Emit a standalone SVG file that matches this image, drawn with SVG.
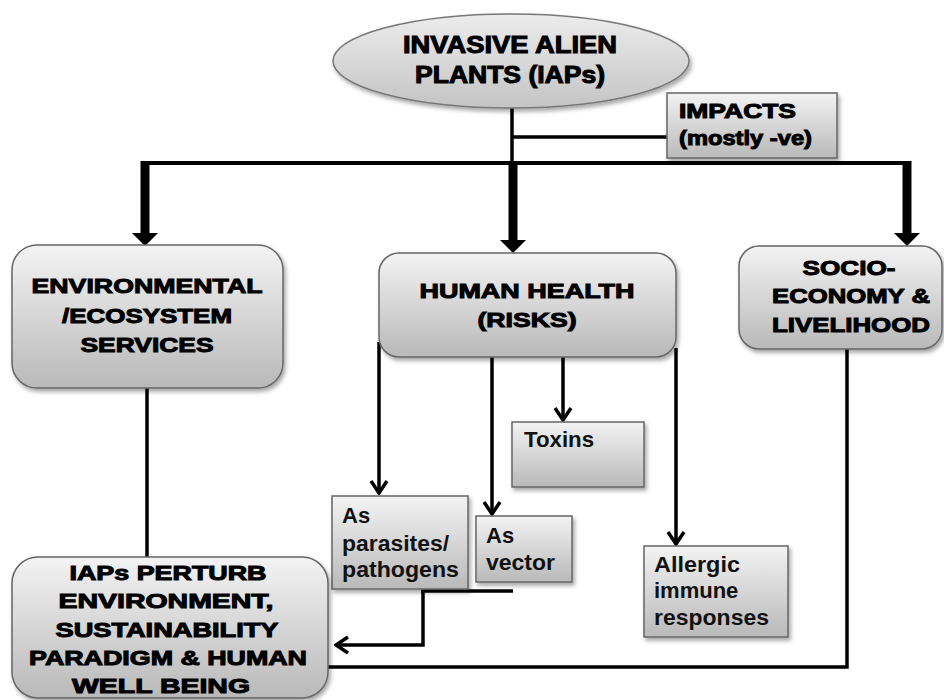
<svg xmlns="http://www.w3.org/2000/svg" width="944" height="700" viewBox="0 0 944 700">
<defs>
<linearGradient id="g" x1="0" y1="0" x2="0" y2="1">
<stop offset="0" stop-color="#f3f3f3"/>
<stop offset="1" stop-color="#b9b9b9"/>
</linearGradient>
<linearGradient id="ge" x1="0" y1="0" x2="0" y2="1">
<stop offset="0" stop-color="#ececec"/>
<stop offset="1" stop-color="#c4c4c4"/>
</linearGradient>
<filter id="sh" x="-10%" y="-10%" width="125%" height="130%">
<feDropShadow dx="2" dy="3" stdDeviation="2" flood-color="#000" flood-opacity="0.35"/>
</filter>
<marker id="chev" viewBox="-14 -10 16 20" markerUnits="userSpaceOnUse" markerWidth="16" markerHeight="20" refX="0" refY="0" orient="auto">
<path d="M-12,-8 L0,0 L-12,8" fill="none" stroke="#000" stroke-width="3.5" stroke-linejoin="miter"/>
</marker>
</defs>
<style>
.box{fill:url(#g);stroke:#666;stroke-width:1.5;filter:url(#sh)}
.hv{font-family:"Liberation Sans",Arial,sans-serif;font-weight:bold;fill:#000;stroke:#000;stroke-width:1}
.sm{font-family:"Liberation Sans",Arial,sans-serif;font-weight:bold;font-size:22px;fill:#111}
.ln{fill:none;stroke:#000;stroke-width:3.5}
.thick{fill:none;stroke:#000;stroke-width:9}
</style>
<rect width="944" height="700" fill="#fff"/>

<g id="connectors">
<line class="ln" x1="512" y1="108" x2="512" y2="163"/>
<line class="ln" x1="512" y1="137" x2="668" y2="137"/>
<line x1="141" y1="163" x2="911" y2="163" stroke="#000" stroke-width="4"/>
<line class="thick" x1="145" y1="161" x2="145" y2="236"/>
<polygon points="132,233 158,233 145,246"/>
<line class="thick" x1="513" y1="161" x2="513" y2="243"/>
<polygon points="500,240 526,240 513,253"/>
<line class="thick" x1="907" y1="161" x2="907" y2="236"/>
<polygon points="894,233 920,233 907,246"/>
<line class="ln" x1="379" y1="342" x2="379" y2="493" marker-end="url(#chev)"/>
<line class="ln" x1="492" y1="357" x2="492" y2="514" marker-end="url(#chev)"/>
<line class="ln" x1="563" y1="357" x2="563" y2="420" marker-end="url(#chev)"/>
<line class="ln" x1="676" y1="348" x2="676" y2="544" marker-end="url(#chev)"/>
<line class="ln" x1="147" y1="388" x2="147" y2="557"/>
<path class="ln" d="M847,349 V667 H328" stroke-width="4"/>
<line class="ln" x1="421" y1="591" x2="513" y2="591" stroke-width="4"/>
<path class="ln" d="M423,591 V645 H336" stroke-width="4" marker-end="url(#chev)"/>
</g>

<g id="iaps">
<ellipse cx="511" cy="61" rx="178" ry="47" fill="url(#ge)" stroke="#777" stroke-width="1.5" filter="url(#sh)"/>
<text class="hv" font-size="23" x="510" y="53" text-anchor="middle" textLength="214" lengthAdjust="spacingAndGlyphs">INVASIVE ALIEN</text>
<text class="hv" font-size="23" x="510" y="83" text-anchor="middle" textLength="190" lengthAdjust="spacingAndGlyphs">PLANTS (IAPs)</text>
</g>

<g id="impacts">
<rect class="box" x="667" y="93" width="170" height="65"/>
<text class="hv" font-size="20" x="679" y="118" textLength="117" lengthAdjust="spacingAndGlyphs">IMPACTS</text>
<text class="hv" font-size="20" x="679" y="145" textLength="133" lengthAdjust="spacingAndGlyphs">(mostly -ve)</text>
</g>

<g id="environmental">
<rect class="box" x="12" y="245" width="271" height="143" rx="25"/>
<text class="hv" font-size="21" x="147" y="293" text-anchor="middle" textLength="231" lengthAdjust="spacingAndGlyphs">ENVIRONMENTAL</text>
<text class="hv" font-size="21" x="147" y="323" text-anchor="middle" textLength="170" lengthAdjust="spacingAndGlyphs">/ECOSYSTEM</text>
<text class="hv" font-size="21" x="147" y="352" text-anchor="middle" textLength="133" lengthAdjust="spacingAndGlyphs">SERVICES</text>
</g>

<g id="health">
<rect class="box" x="379" y="253" width="297" height="104" rx="20"/>
<text class="hv" font-size="21" x="527" y="298" text-anchor="middle" textLength="215" lengthAdjust="spacingAndGlyphs">HUMAN HEALTH</text>
<text class="hv" font-size="21" x="527" y="327" text-anchor="middle" textLength="99" lengthAdjust="spacingAndGlyphs">(RISKS)</text>
</g>

<g id="socio">
<rect class="box" x="739" y="246" width="203" height="103" rx="20"/>
<text class="hv" font-size="21" x="849" y="275" text-anchor="middle" textLength="93" lengthAdjust="spacingAndGlyphs">SOCIO-</text>
<text class="hv" font-size="21" x="851" y="303" text-anchor="middle" textLength="158" lengthAdjust="spacingAndGlyphs">ECONOMY &amp;</text>
<text class="hv" font-size="21" x="851" y="332" text-anchor="middle" textLength="158" lengthAdjust="spacingAndGlyphs">LIVELIHOOD</text>
</g>

<g id="toxins">
<rect class="box" x="512" y="422" width="132" height="65"/>
<text class="sm" x="524" y="447" textLength="70" lengthAdjust="spacingAndGlyphs">Toxins</text>
</g>

<g id="parasites">
<rect class="box" x="332" y="496" width="136" height="93"/>
<text class="sm" x="342" y="523">As</text>
<text class="sm" x="342" y="551" textLength="107" lengthAdjust="spacingAndGlyphs">parasites/</text>
<text class="sm" x="342" y="577" textLength="117" lengthAdjust="spacingAndGlyphs">pathogens</text>
</g>

<g id="vector">
<rect class="box" x="476" y="516" width="96" height="66"/>
<text class="sm" x="486" y="543">As</text>
<text class="sm" x="486" y="570" textLength="69" lengthAdjust="spacingAndGlyphs">vector</text>
</g>

<g id="allergic">
<rect class="box" x="644" y="546" width="144" height="91"/>
<text class="sm" x="654" y="572" textLength="86" lengthAdjust="spacingAndGlyphs">Allergic</text>
<text class="sm" x="654" y="598">immune</text>
<text class="sm" x="654" y="625" textLength="115" lengthAdjust="spacingAndGlyphs">responses</text>
</g>

<g id="perturb">
<rect class="box" x="12" y="557" width="316" height="141" rx="26"/>
<text class="hv" font-size="20" x="168" y="580" text-anchor="middle" textLength="197" lengthAdjust="spacingAndGlyphs">IAPs PERTURB</text>
<text class="hv" font-size="20" x="166" y="608" text-anchor="middle" textLength="215" lengthAdjust="spacingAndGlyphs">ENVIRONMENT,</text>
<text class="hv" font-size="20" x="167" y="637" text-anchor="middle" textLength="223" lengthAdjust="spacingAndGlyphs">SUSTAINABILITY</text>
<text class="hv" font-size="20" x="168" y="665" text-anchor="middle" textLength="278" lengthAdjust="spacingAndGlyphs">PARADIGM &amp; HUMAN</text>
<text class="hv" font-size="20" x="161" y="693" text-anchor="middle" textLength="178" lengthAdjust="spacingAndGlyphs">WELL BEING</text>
</g>
</svg>
